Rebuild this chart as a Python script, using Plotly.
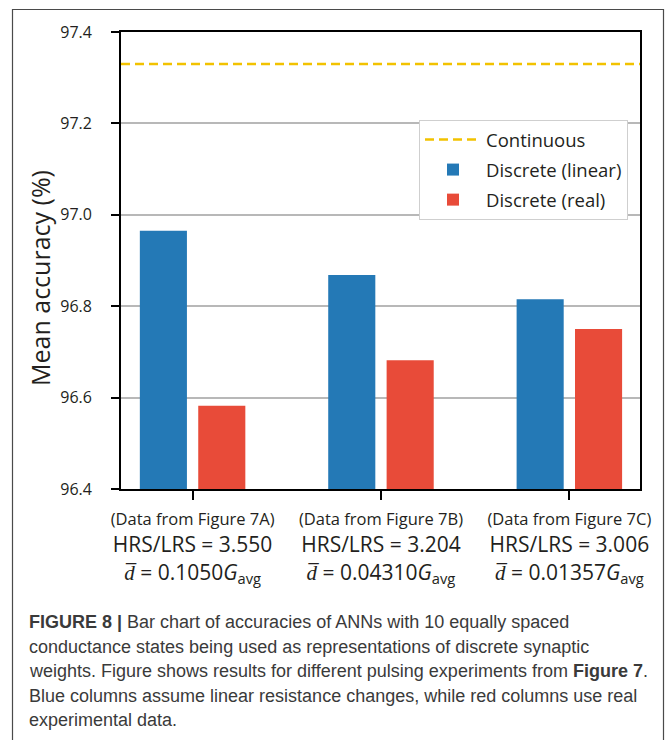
import plotly.graph_objects as go

# ---- data ----
groups = [0, 1, 2]
group_sources = ["(Data from Figure 7A)", "(Data from Figure 7B)", "(Data from Figure 7C)"]
hrs_lrs = ["3.550", "3.204", "3.006"]
d_bar = ["0.1050", "0.04310", "0.01357"]
linear_acc = [96.965, 96.868, 96.815]
real_acc = [96.582, 96.682, 96.750]
continuous_acc = 97.33
series_names = ["Continuous", "Discrete (linear)", "Discrete (real)"]
y_ticks = [96.4, 96.6, 96.8, 97.0, 97.2, 97.4]
y_title = "Mean accuracy (%)"
caption_lines = [
    "<b>FIGURE 8 |</b> Bar chart of accuracies of ANNs with 10 equally spaced",
    "conductance states being used as representations of discrete synaptic",
    "weights. Figure shows results for different pulsing experiments from <b>Figure 7</b>.",
    "Blue columns assume linear resistance changes, while red columns use real",
    "experimental data.",
]

BLUE = "#2479b6"
RED = "#e84b39"
GOLD = "#f2c200"
FONT = "Open Sans"
TXT = "#231f20"

ticktext = [
    f"<span style='font-size:16.5px'>{s}</span><br>HRS/LRS = {h}<br><i>d\u0305</i> = {d}<i>G</i><sub>avg</sub>"
    for s, h, d in zip(group_sources, hrs_lrs, d_bar)
]

fig = go.Figure()

# legend-only entry for continuous line
fig.add_trace(go.Scatter(
    x=[None], y=[None], mode="lines", name=series_names[0],
    line=dict(color=GOLD, width=2.5, dash="9px,5px"), legendgroup="a",
))
fig.add_trace(go.Bar(
    x=groups, y=[v - 96.4 for v in linear_acc], base=96.4, name=series_names[1],
    marker=dict(color=BLUE, line=dict(width=0)), width=0.25, offset=-0.28,
    legendgroup="b",
))
fig.add_trace(go.Bar(
    x=groups, y=[v - 96.4 for v in real_acc], base=96.4, name=series_names[2],
    marker=dict(color=RED, line=dict(width=0)), width=0.25, offset=0.03,
    legendgroup="c",
))
fig.add_hline(y=continuous_acc, line=dict(color=GOLD, width=2.5, dash="9px,5px"))

W, H = 667, 740
L, R, T, B = 121, 27, 32, 251
pw, ph = W - L - R, H - T - B


def px_x(px):
    return (px - L) / pw


def px_y(py):
    return 1 - (py - T) / ph


fig.update_layout(
    width=W, height=H,
    margin=dict(l=L, r=R, t=T, b=B, pad=0),
    paper_bgcolor="white", plot_bgcolor="white",
    barmode="overlay",
    font=dict(family=FONT, color=TXT),
    legend=dict(
        x=px_x(419), y=px_y(120), xanchor="left", yanchor="top",
        bgcolor="white", bordercolor="#cfcfcf", borderwidth=1,
        font=dict(size=18.5, family=FONT, color=TXT),
        tracegroupgap=3, itemwidth=56,
    ),
    showlegend=True,
)

fig.update_xaxes(
    range=[-0.38, 2.375], tickvals=groups, ticktext=ticktext,
    tickfont=dict(size=21, family=FONT, color=TXT),
    ticks="outside", ticklen=9, tickwidth=1.5, tickcolor="black",
    showline=True, linecolor="black", linewidth=1.8, mirror=True,
    showgrid=False, zeroline=False,
)
fig.update_yaxes(
    range=[96.4, 97.4], tickvals=y_ticks, tickformat=".1f",
    tickfont=dict(size=16, family=FONT, color=TXT),
    ticks="outside", ticklen=8, tickwidth=1.5, tickcolor="black",
    ticklabelstandoff=16,
    showline=True, linecolor="black", linewidth=1.8, mirror=True,
    showgrid=True, gridcolor="#b8b8b8", gridwidth=1.5, zeroline=False,
)

# y-axis title (placed slightly below the axis centre, as in the reference)
fig.add_annotation(
    xref="paper", yref="paper", x=px_x(40), y=px_y(278),
    xanchor="center", yanchor="middle", textangle=-90, showarrow=False,
    text=y_title, font=dict(size=25, family=FONT, color=TXT),
)

# outer frame
fig.add_shape(type="rect", xref="paper", yref="paper",
              x0=px_x(12.5), x1=px_x(663.5), y0=px_y(760), y1=px_y(9.5),
              line=dict(color="#4a4a4a", width=1.2), fillcolor="rgba(0,0,0,0)")

# caption
cap_y = [622, 647, 671, 696, 720]
for txt, cy in zip(caption_lines, cap_y):
    fig.add_annotation(
        xref="paper", yref="paper", x=px_x(27), y=px_y(cy),
        xanchor="left", yanchor="middle", showarrow=False, text=txt,
        font=dict(family="Liberation Sans", size=18, color="#3a3a3a"),
    )

fig.write_html("out.html")
